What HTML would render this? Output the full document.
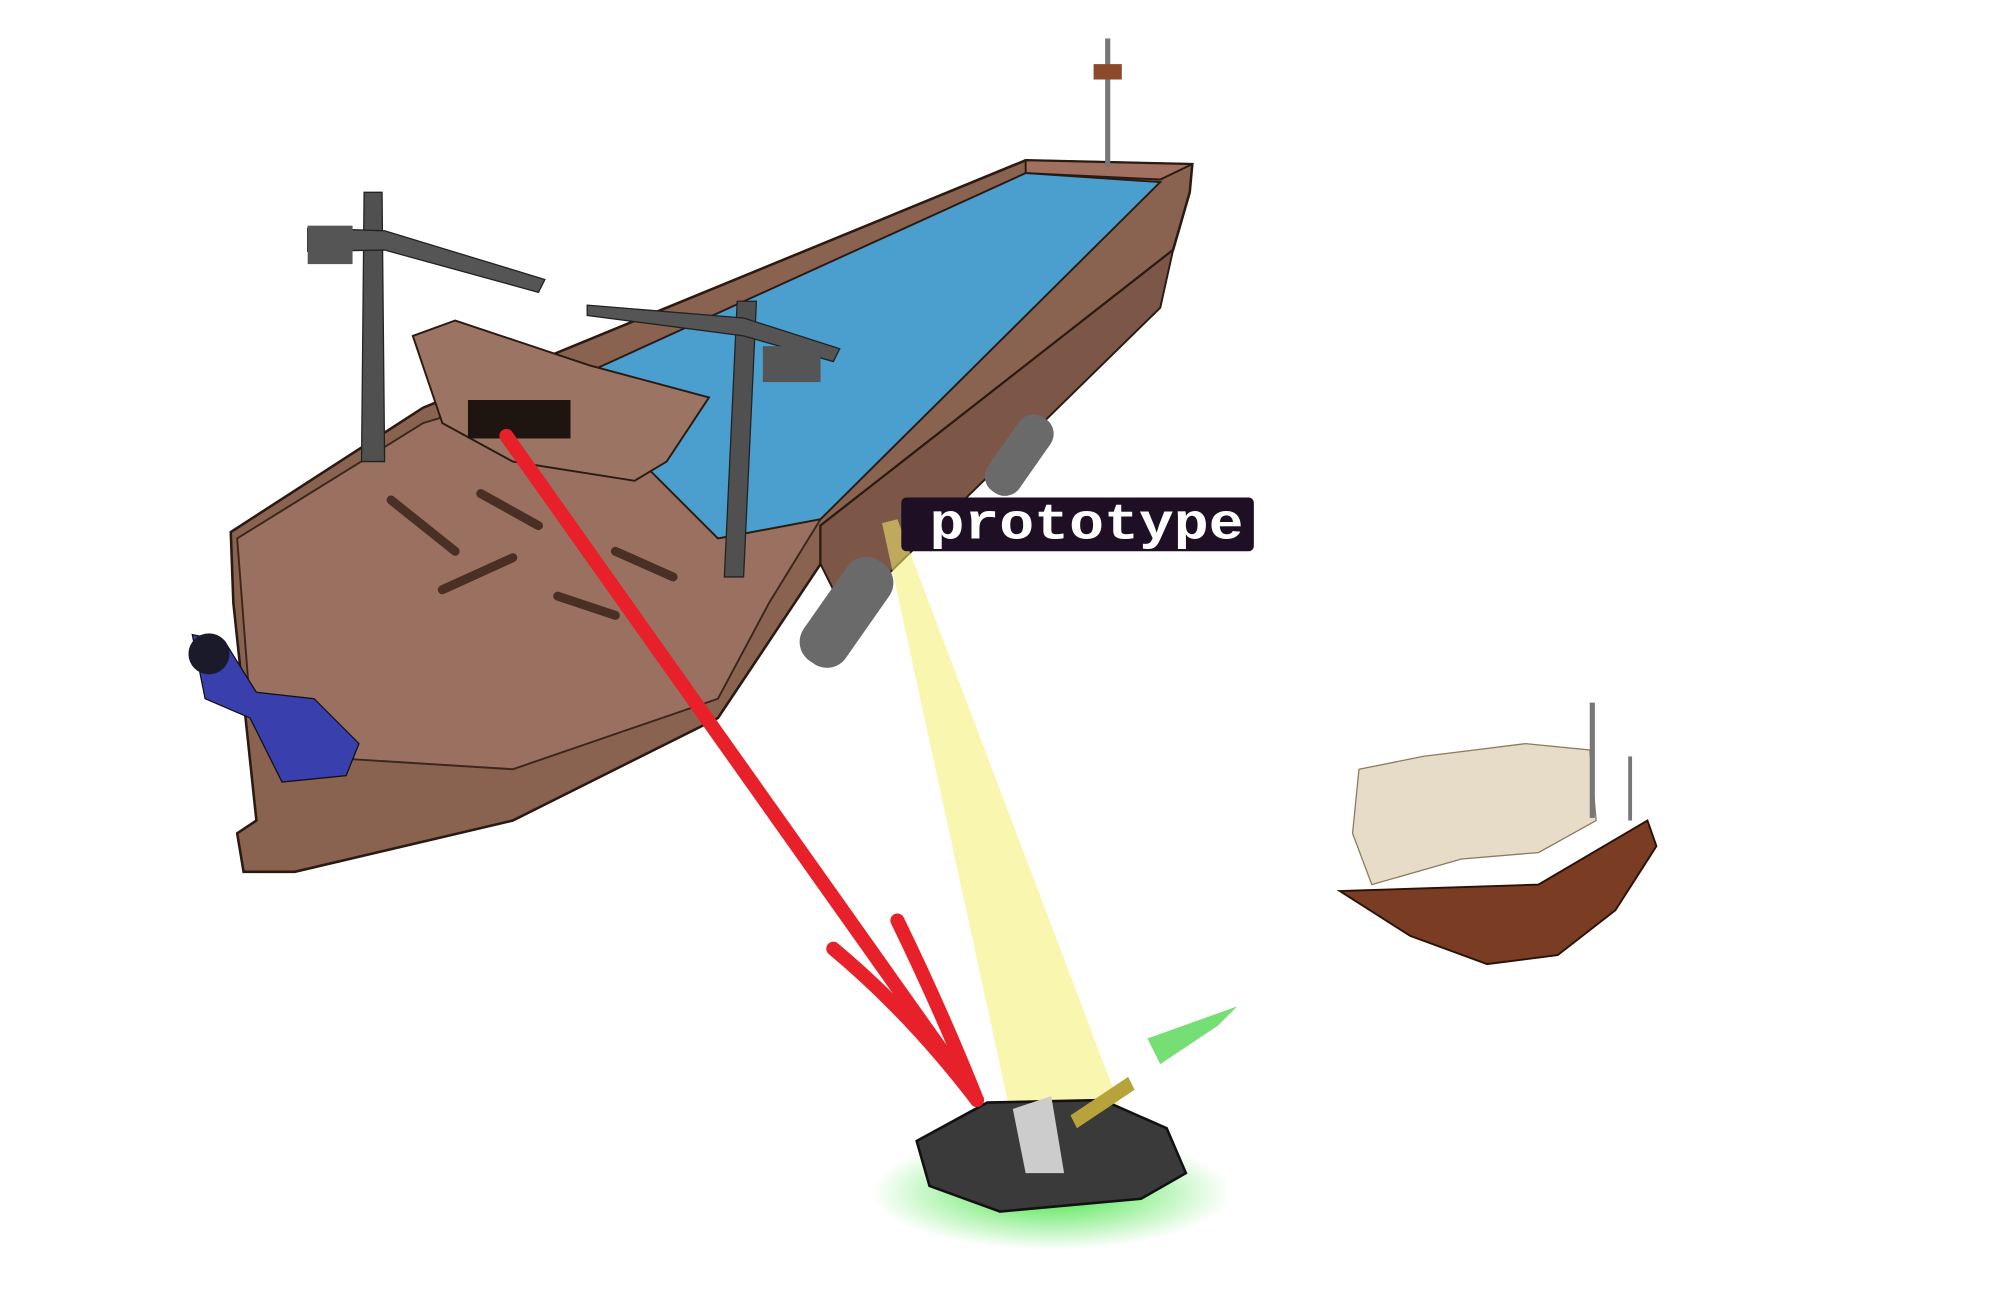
<!DOCTYPE html>
<html><head><meta charset="utf-8"><style>
html,body{margin:0;padding:0;background:#fff;}
svg{display:block}
</style></head><body>
<svg width="2000" height="1309" viewBox="0 0 1560 1021" xmlns="http://www.w3.org/2000/svg">
<defs>
<radialGradient id="g" cx="50%" cy="50%" r="50%"><stop offset="0" stop-color="#2ee02e" stop-opacity="0.9"/><stop offset="1" stop-color="#2ee02e" stop-opacity="0"/></radialGradient>
</defs>
<path d="M180,415 L330,318 L800,125 L930,128 L928,150 L915,195 L640,410 L640,440 L560,560 L400,640 L230,680 L190,680 L185,650 L200,640 L182,470 Z" fill="#8a6350" stroke="#2a1a12" stroke-width="2"/>
<path d="M185,420 L330,330 L455,292 L640,405 L600,470 L560,545 L400,600 L240,590 L195,550 Z" fill="#9a7060" stroke="#3a261c" stroke-width="1.5"/>
<path d="M640,410 L915,195 L905,240 L660,480 L640,440 Z" fill="#7c5646" stroke="#2a1a12" stroke-width="1.5"/>
<path d="M800,125 L930,128 L905,140 L800,135 Z" fill="#a07060" stroke="#2a1a12" stroke-width="1.5"/>
<path d="M455,292 L800,135 L905,142 L640,405 L560,420 L500,360 Z" fill="#4a9fce" stroke="#2a1a12" stroke-width="1.5"/>
<rect x="640" y="430" width="40" height="95" rx="18" fill="#6a6a6a" transform="rotate(35 660 478)"/>
<rect x="780" y="320" width="30" height="70" rx="14" fill="#6a6a6a" transform="rotate(35 795 355)"/>
<rect x="862" y="30" width="4" height="100" fill="#777"/>
<rect x="853" y="50" width="22" height="12" fill="#8b4a2b"/>
<path d="M322,262 L355,250 L460,285 L553,310 L520,360 L495,375 L400,360 L345,330 Z" fill="#9c7464" stroke="#2a1a12" stroke-width="1.5"/>
<rect x="365" y="312" width="80" height="30" fill="#1e1410"/>
<path d="M284,150 L298,150 L300,360 L282,360 Z" fill="#505050" stroke="#222"/>
<path d="M240,178 L300,180 L425,218 L420,228 L300,195 L240,196 Z" fill="#555" stroke="#222"/>
<rect x="240" y="176" width="35" height="30" fill="#555"/>
<path d="M575,235 L590,235 L580,450 L565,450 Z" fill="#505050" stroke="#222"/>
<path d="M458,238 L580,248 L655,272 L650,282 L580,262 L458,246 Z" fill="#555" stroke="#222"/>
<rect x="595" y="270" width="45" height="28" fill="#555"/>
<g stroke="#4a3024" stroke-width="7" stroke-linecap="round">
<line x1="305" y1="390" x2="355" y2="430"/><line x1="345" y1="460" x2="400" y2="435"/><line x1="435" y1="465" x2="480" y2="480"/><line x1="480" y1="430" x2="525" y2="450"/><line x1="375" y1="385" x2="420" y2="410"/>
</g>
<path d="M150,495 L175,500 L200,540 L245,545 L280,580 L270,605 L220,610 L195,560 L160,545 Z" fill="#3a3fae" stroke="#111"/>
<circle cx="163" cy="510" r="16" fill="#1a1a2a"/>
<path d="M688,408 L700,405 L880,880 L860,920 L810,930 L795,900 Z" fill="#f4ee70" opacity="0.55"/>
<ellipse cx="820" cy="930" rx="140" ry="45" fill="url(#g)"/>
<path d="M895,810 L965,785 L950,800 L905,830 Z" fill="#3ad03a" opacity="0.7"/>
<path d="M715,890 L770,860 L860,858 L910,880 L925,915 L890,935 L780,945 L725,925 Z" fill="#3a3a3a" stroke="#111" stroke-width="2"/>
<path d="M790,865 L820,855 L830,915 L800,915 Z" fill="#ccc"/>
<path d="M835,870 L880,840 L885,850 L840,880 Z" fill="#b8a23a"/>
<g stroke="#e8202a" stroke-width="11" stroke-linecap="round" fill="none">
<line x1="395" y1="340" x2="762" y2="858"/>
<path d="M650,740 Q710,790 762,858 M700,718 Q735,790 762,858"/>
</g>
<rect x="703" y="388" width="275" height="42" rx="4" fill="#1e0f24"/>
<text x="725" y="420" font-family="Liberation Mono, monospace" font-weight="bold" font-size="40" fill="#fff" textLength="245" lengthAdjust="spacingAndGlyphs">prototype</text>
<path d="M1045,695 L1200,690 L1285,640 L1292,660 L1260,710 L1215,745 L1160,752 L1100,730 Z" fill="#7a3c22" stroke="#2a1208" stroke-width="1.5"/>
<path d="M1060,600 L1110,590 L1150,585 L1190,580 L1240,585 L1245,640 L1200,665 L1140,670 L1070,690 L1055,650 Z" fill="#e6dcc8" stroke="#8a7a60"/>
<rect x="1240" y="548" width="4" height="90" fill="#777"/>
<rect x="1270" y="590" width="3" height="50" fill="#777"/>
</svg>
</body></html>
